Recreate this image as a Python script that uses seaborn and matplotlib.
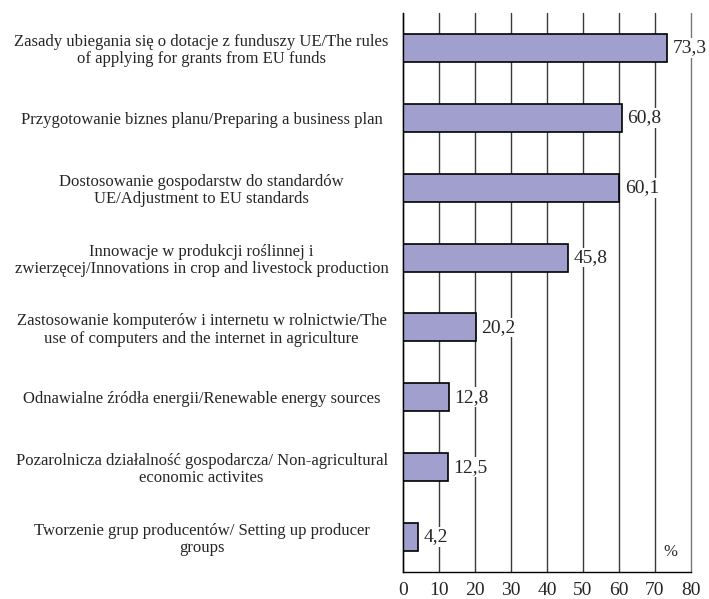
import numpy as np
import pandas as pd
import matplotlib
matplotlib.use("Agg")
import matplotlib.pyplot as plt
import seaborn as sns

categories = [
    "Zasady ubiegania się o dotacje z funduszy UE/The rules\nof applying for grants from EU funds",
    "Przygotowanie biznes planu/Preparing a business plan",
    "Dostosowanie gospodarstw do standardów\nUE/Adjustment to EU standards",
    "Innowacje w produkcji roślinnej i\nzwierzęcej/Innovations in crop and livestock production",
    "Zastosowanie komputerów i internetu w rolnictwie/The\nuse of computers and the internet in agriculture",
    "Odnawialne źródła energii/Renewable energy sources",
    "Pozarolnicza działalność gospodarcza/ Non-agricultural\neconomic activites",
    "Tworzenie grup producentów/ Setting up producer\ngroups",
]
values = [73.3, 60.8, 60.1, 45.8, 20.2, 12.8, 12.5, 4.2]
value_labels = ["73,3", "60,8", "60,1", "45,8", "20,2", "12,8", "12,5", "4,2"]
xticks = [0, 10, 20, 30, 40, 50, 60, 70, 80]

df = pd.DataFrame({"category": categories, "value": values})

sns.set_style("white")
plt.rcParams["font.family"] = ["Liberation Serif", "DejaVu Serif"]

fig = plt.figure(figsize=(7.09, 5.99), dpi=100)
ax = fig.add_axes([0.5684, 0.0451, 0.4062, 0.9332])

ax.set_axisbelow(True)
ax.xaxis.grid(True, color="#3a3a3a", linewidth=1.0)
ax.yaxis.grid(False)

sns.barplot(data=df, x="value", y="category", orient="h", color="#a09fcd",
            edgecolor="black", linewidth=1.2, width=0.4, saturation=1, ax=ax)

ax.set_xlim(0, 80)
ax.set_ylim(len(categories) - 0.5, -0.5)
ax.set_xticks(xticks)
ax.set_xticklabels([str(t) for t in xticks], fontsize=14)
ax.set_xlabel("")
ax.set_ylabel("")

ax.set_yticks(range(len(categories)))
ax.set_yticklabels(categories, fontsize=12, ha="center", multialignment="center",
                   linespacing=1.1)
# pad in points: label centres sit ~202 px left of the axis
ax.tick_params(axis="y", which="major", length=0, pad=145)
ax.set_yticks(np.arange(-0.5, len(categories), 1.0), minor=True)
ax.tick_params(axis="y", which="minor", length=4, width=1, direction="out", color="black")
ax.tick_params(axis="x", length=4, width=1, direction="out", color="black", pad=3)

# keep the gridline at 80 from being clipped at the axes edge
for gl in ax.get_xgridlines():
    gl.set_clip_on(False)
ax.get_xgridlines()[-1].set_color("#777777")

for s in ["top", "right"]:
    ax.spines[s].set_visible(False)
for s in ["left", "bottom"]:
    ax.spines[s].set_color("black")
    ax.spines[s].set_linewidth(1.0)

for i, (v, lab) in enumerate(zip(values, value_labels)):
    ax.text(v + 1.5, i, lab, va="center", ha="left", fontsize=14, clip_on=False,
            bbox=dict(facecolor="white", edgecolor="none", pad=1.0))

ax.text(0.93, 0.035, "%", transform=ax.transAxes, ha="center", va="center", fontsize=12)

fig.savefig("out.png", dpi=100)
